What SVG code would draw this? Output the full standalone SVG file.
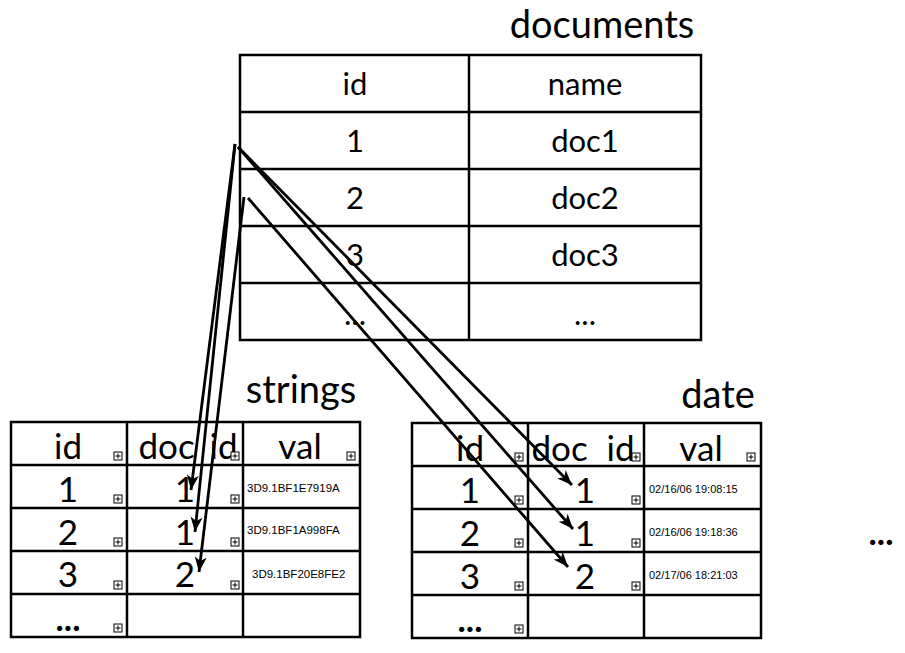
<svg xmlns="http://www.w3.org/2000/svg" width="905" height="653" viewBox="0 0 905 653">
<style>
.t{font-family:Lato,"Noto Sans","Liberation Sans",sans-serif;fill:#000;text-anchor:middle}
.ttl{font-size:38px}
.h{font-size:31px}
.c{font-size:35px}
.d{font-weight:bold}
.s{font-family:"Liberation Sans",Arial,sans-serif;font-size:11.5px;fill:#000}
.box{fill:#fff;stroke:#000;stroke-width:2.5}
.ln{stroke:#000;stroke-width:2.5;fill:none}
.ar{stroke:#000;stroke-width:2.8;fill:none;marker-end:url(#ah)}
</style>
<defs>
<marker id="ah" markerUnits="userSpaceOnUse" markerWidth="18" markerHeight="14" refX="15" refY="7" orient="auto">
<path d="M0,1 L15,7 L0,13 L4,7 z" fill="#000"/>
</marker>
<g id="pl">
<rect x="-4" y="-4" width="8" height="8" fill="#fff" stroke="#000" stroke-width="1"/>
<path d="M-2.5,0 H2.5 M0,-2.5 V2.5" stroke="#000" stroke-width="1"/>
</g>
</defs>
<rect width="905" height="653" fill="#fff"/>

<g id="documents">
<text class="t ttl" x="602" y="38">documents</text>
<rect class="box" x="240" y="55" width="461" height="285"/>
<path class="ln" d="M469,55 V340 M240,112 H701 M240,169 H701 M240,226 H701 M240,283 H701"/>
<text class="t h" x="355" y="95">id</text>
<text class="t h" x="585" y="95">name</text>
<text class="t h" x="355" y="152">1</text>
<text class="t h" x="585" y="152">doc1</text>
<text class="t h" x="355" y="209">2</text>
<text class="t h" x="585" y="209">doc2</text>
<text class="t h" x="355" y="266">3</text>
<text class="t h" x="585" y="266">doc3</text>
<text class="t h" x="355" y="325">...</text>
<text class="t h" x="585" y="325">...</text>
</g>

<g id="strings">
<text class="t ttl" x="301" y="403">strings</text>
<rect class="box" x="11" y="422" width="349" height="215"/>
<path class="ln" d="M127,422 V637 M243,422 V637 M11,465 H360 M11,508 H360 M11,551 H360 M11,594 H360"/>
<text class="t c" x="68" y="459">id</text>
<text class="t c" x="188" y="459" word-spacing="6">doc id</text>
<text class="t c" x="300" y="459">val</text>
<text class="t c" x="68" y="502">1</text>
<text class="t c" x="68" y="545">2</text>
<text class="t c" x="68" y="587">3</text>
<text class="t c d" x="68" y="631">...</text>
<text class="t c" x="185" y="502">1</text>
<text class="t c" x="185" y="545">1</text>
<text class="t c" x="185" y="587">2</text>
<text class="s" x="247" y="492">3D9.1BF1E7919A</text>
<text class="s" x="247" y="534">3D9.1BF1A998FA</text>
<text class="s" x="252" y="578">3D9.1BF20E8FE2</text>
<use href="#pl" x="118" y="456"/>
<use href="#pl" x="118" y="499"/>
<use href="#pl" x="118" y="542"/>
<use href="#pl" x="118" y="585"/>
<use href="#pl" x="118" y="628"/>
<use href="#pl" x="235" y="456"/>
<use href="#pl" x="235" y="499"/>
<use href="#pl" x="235" y="542"/>
<use href="#pl" x="235" y="585"/>
<use href="#pl" x="351" y="456"/>
</g>

<g id="date">
<text class="t ttl" x="718" y="408">date</text>
<rect class="box" x="412" y="423" width="349" height="215"/>
<path class="ln" d="M528,423 V638 M644,423 V638 M412,466 H761 M412,509 H761 M412,552 H761 M412,595 H761"/>
<text class="t c" x="470" y="461">id</text>
<text class="t c" x="583" y="461" word-spacing="10">doc id</text>
<text class="t c" x="701" y="461">val</text>
<text class="t c" x="470" y="503">1</text>
<text class="t c" x="470" y="546">2</text>
<text class="t c" x="470" y="589">3</text>
<text class="t c d" x="470" y="632">...</text>
<text class="t c" x="585" y="503">1</text>
<text class="t c" x="585" y="546">1</text>
<text class="t c" x="585" y="589">2</text>
<text class="s" x="649" y="493" style="font-size:11px">02/16/06 19:08:15</text>
<text class="s" x="649" y="536" style="font-size:11px">02/16/06 19:18:36</text>
<text class="s" x="649" y="579" style="font-size:11px">02/17/06 18:21:03</text>
<use href="#pl" x="519" y="457"/>
<use href="#pl" x="519" y="500"/>
<use href="#pl" x="519" y="543"/>
<use href="#pl" x="519" y="586"/>
<use href="#pl" x="519" y="629"/>
<use href="#pl" x="636" y="457"/>
<use href="#pl" x="636" y="500"/>
<use href="#pl" x="636" y="543"/>
<use href="#pl" x="636" y="586"/>
<use href="#pl" x="751" y="457"/>
</g>

<g id="more">
<text class="t c d" x="881" y="545">...</text>
</g>

<g id="connectors">
<path class="ar" d="M235,144 L191,490"/>
<path class="ar" d="M235,144 L195,532"/>
<path class="ar" d="M244,197 L199,572"/>
<path class="ar" d="M238,147 L572,485"/>
<path class="ar" d="M238,147 L573,529"/>
<path class="ar" d="M248,198 L568,567"/>
</g>
</svg>
